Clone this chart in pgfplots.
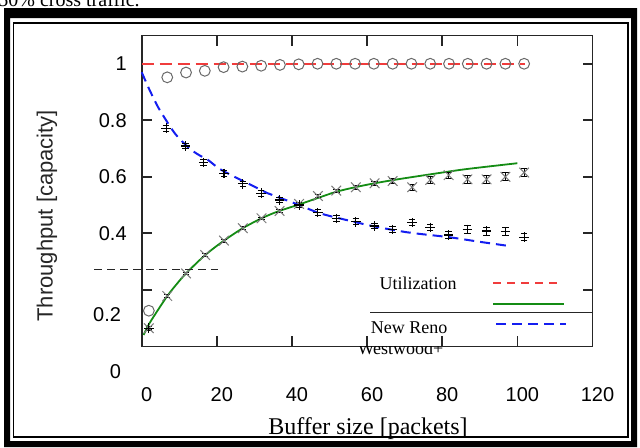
\documentclass[border=0pt]{standalone}
\usepackage{fontspec}
\setmainfont{Liberation Serif}
\setsansfont{Liberation Sans}
\usepackage{pgfplots}
\pgfplotsset{compat=1.18}
\definecolor{utilred}{RGB}{240,60,60}
\definecolor{wwgreen}{RGB}{20,140,20}
\definecolor{nrblue}{RGB}{20,30,240}
\definecolor{markgray}{RGB}{105,105,105}
\definecolor{xgray}{RGB}{125,125,125}

\begin{document}
\begin{tikzpicture}
\path[use as bounding box] (0,0) rectangle (320pt,223.5pt);
% scanned frame
\fill[black,even odd rule] (2pt,0pt) rectangle (318.5pt,219.5pt) (5pt,3pt) rectangle (315.5pt,214.5pt);
\draw[line width=0.9pt] (6.75pt,5pt) rectangle (314pt,212pt);
\node[anchor=base west,font=\fontsize{10}{12}\selectfont,inner sep=0] at (-1pt,220.5pt) {50\% cross traffic.};

\begin{axis}[
    at={(70.85pt,50.35pt)}, anchor=south west,
    scale only axis, width=225.4pt, height=155.4pt,
    xmin=0, xmax=120, ymin=0, ymax=1.1,
    xtick={0,20,...,120},
    ytick={0.2,0.4,0.6,0.8,1},
    yticklabels={,0.4,0.6,0.8,1},
    tick align=inside, tick pos=both, major tick length=5pt,
    axis line style={line width=0.8pt, black!85},
    every tick/.style={black!85, line width=0.8pt},
    tick label style={font=\sffamily\fontsize{10}{12}\selectfont},
    /pgf/number format/assume math mode=true,
    xticklabel style={yshift=-17pt, xshift=2.5pt},
    yticklabel style={xshift=-4pt},
    clip=false,
]
% utilization model
\addplot[utilred, line width=1pt, dash pattern=on 6pt off 3pt] coordinates {(0,1) (102,1)};
% New Reno model
\addplot[nrblue, line width=1pt, dash pattern=on 5pt off 3pt, smooth] coordinates {
    (0,0.97) (2,0.91) (4.3,0.848) (6.5,0.80) (8.8,0.754) (11,0.722) (13.2,0.695)
    (15.5,0.675) (17.6,0.66) (20.5,0.63) (23.8,0.606) (28.2,0.577) (33.5,0.542)
    (35.9,0.530) (41.9,0.5) (47.4,0.471) (54.5,0.447) (62.4,0.423) (70.4,0.404)
    (73.9,0.398) (81.9,0.386) (89.9,0.370) (97.8,0.355)
};
% Westwood+ model
\addplot[wwgreen, line width=0.9pt, smooth] coordinates {
    (0.5,0.04) (2,0.08) (4.3,0.128) (6.8,0.178) (9.3,0.22) (11.8,0.258) (16.9,0.323)
    (21.9,0.374) (26.9,0.418) (31.9,0.453) (36.2,0.477) (41.9,0.502) (46.9,0.525)
    (51.8,0.547) (56.8,0.563) (62,0.577) (68.6,0.592) (77.5,0.61) (86.3,0.627) (100,0.648)
};
% utilization measured
\addplot[only marks, mark=o, mark size=2.7pt, mark options={markgray, line width=0.5pt}] coordinates {
    (1.9,0.126) (6.8,0.952) (11.8,0.969) (16.8,0.975) (21.8,0.988) (26.8,0.990)
    (31.8,0.993) (36.8,0.996) (41.8,0.998) (46.8,1) (51.8,1) (56.8,1) (61.8,1)
    (66.8,1) (71.8,1) (76.8,1) (81.8,1) (86.8,1) (91.8,1) (96.8,1) (101.8,1)
};
% Westwood+ measured
\addplot[only marks, mark=x, mark size=3.4pt, mark options={xgray, line width=0.5pt},
    error bars/.cd, y dir=both, y explicit,
    error bar style={black, line width=0.5pt},
    error mark options={black, rotate=90, mark size=1.6pt}] coordinates {
    (1.9,0.064) +- (0,0.005) (6.8,0.178) +- (0,0.005) (11.8,0.258) +- (0,0.005)
    (16.9,0.323) +- (0,0.005) (21.9,0.374) +- (0,0.005) (26.9,0.418) +- (0,0.005)
    (31.9,0.453) +- (0,0.005) (36.7,0.479) +- (0,0.005) (41.9,0.504) +- (0,0.005)
    (46.9,0.532) +- (0,0.005) (51.8,0.551) +- (0,0.006) (57,0.563) +- (0,0.008)
    (62,0.577) +- (0,0.008) (66.8,0.585) +- (0,0.008) (72,0.563) +- (0,0.01)
    (76.8,0.589) +- (0,0.012) (81.7,0.606) +- (0,0.01) (86.7,0.591) +- (0,0.014)
    (91.8,0.591) +- (0,0.014) (96.8,0.6) +- (0,0.014) (101.8,0.615) +- (0,0.014)
};
% New Reno measured
\addplot[only marks, mark=+, mark size=2.4pt, mark options={black, line width=0.6pt},
    error bars/.cd, y dir=both, y explicit,
    error bar style={black, line width=0.5pt},
    error mark options={black, rotate=90, mark size=1.6pt}] coordinates {
    (1.9,0.064) +- (0,0.008) (6.5,0.772) +- (0,0.01) (11.7,0.709) +- (0,0.01)
    (16.5,0.650) +- (0,0.01) (21.9,0.612) +- (0,0.01) (26.9,0.575) +- (0,0.01)
    (31.8,0.542) +- (0,0.01) (36.7,0.518) +- (0,0.01) (41.9,0.5) +- (0,0.01)
    (46.9,0.473) +- (0,0.01) (51.8,0.453) +- (0,0.01) (57,0.441) +- (0,0.01)
    (62,0.426) +- (0,0.01) (66.8,0.414) +- (0,0.01) (72,0.438) +- (0,0.01)
    (76.8,0.421) +- (0,0.012) (81.7,0.394) +- (0,0.012) (86.7,0.414) +- (0,0.014)
    (91.8,0.408) +- (0,0.014) (96.8,0.406) +- (0,0.014) (101.8,0.386) +- (0,0.012)
};
\end{axis}

% displaced tick labels and stray dashed line
\node[anchor=east, font=\sffamily\fontsize{10}{12}\selectfont] at (64pt,66pt) {0.2};
\node[anchor=east, font=\sffamily\fontsize{10}{12}\selectfont] at (64pt,37.6pt) {0};
\draw[black!85, line width=0.7pt, dash pattern=on 4pt off 2.5pt] (47pt,88.85pt) -- (109pt,88.85pt);

% axis titles
\node[rotate=90, font=\sffamily\fontsize{11}{13}\selectfont, text=black!85] at (23.5pt,115.6pt) {Throughput [capacity]};
\node[font=\fontsize{12}{14}\selectfont] at (184pt,9pt) {Buffer size [packets]};

% legend
\node[font=\fontsize{9}{11}\selectfont] at (209pt,82pt) {Utilization};
\draw[utilred, line width=1pt, dash pattern=on 4pt off 3pt] (246.5pt,82.15pt) -- (280pt,82.15pt);
\draw[wwgreen, line width=1pt] (246.5pt,71.35pt) -- (282pt,71.35pt);
\draw[black!85, line width=0.6pt] (185pt,67.15pt) -- (295.85pt,67.15pt);
\node[font=\fontsize{9}{11}\selectfont] at (204.5pt,59.5pt) {New Reno};
\draw[nrblue, line width=1pt, dash pattern=on 5pt off 3pt] (248pt,61.35pt) -- (283pt,61.35pt);
\begin{scope}
\clip (150pt,30pt) rectangle (250pt,50.2pt);
\node[font=\fontsize{9}{11}\selectfont, anchor=base] at (200.25pt,46.5pt) {Westwood+};
\end{scope}
\end{tikzpicture}
\end{document}
